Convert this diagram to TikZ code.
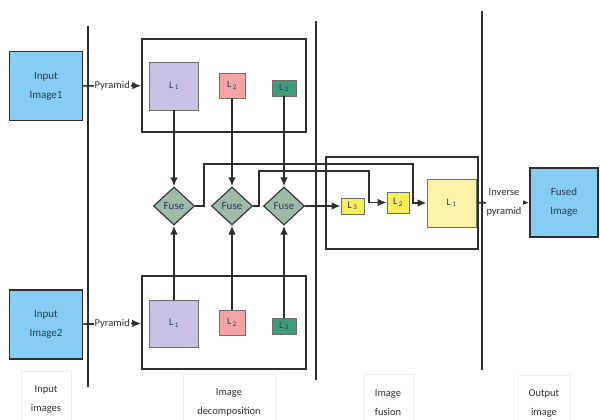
\documentclass[tikz,border=0pt]{standalone}
\usepackage{fontspec}
\setmainfont{Carlito}
\usetikzlibrary{arrows.meta,positioning,shapes.geometric}
\definecolor{ink}{HTML}{2E2E2E}
\definecolor{boxink}{HTML}{253C55}
\definecolor{imgblue}{HTML}{85CDF2}
\definecolor{lvlpurple}{HTML}{C8C1E3}
\definecolor{lvlpink}{HTML}{F4A4A4}
\definecolor{lvlgreen}{HTML}{3F9A7A}
\definecolor{fusegreen}{HTML}{9FBAA8}
\definecolor{fuseyellow}{HTML}{F6EE5C}
\definecolor{paleyellow}{HTML}{FBF4A8}
\definecolor{faint}{HTML}{EEEEEE}

\begin{document}
\begin{tikzpicture}[
  x=1pt,y=-1pt,
  font=\fontsize{11}{13}\selectfont,
  image/.style={draw=ink,line width=1.5pt,fill=imgblue,text=boxink,align=center,minimum width=73pt,minimum height=69pt,font=\fontsize{11}{19}\selectfont},
  frame/.style={draw=ink,line width=1.5pt,inner sep=0pt},
  level/.style={draw=ink!70,line width=.7pt,inner sep=0pt,text=boxink,font=\fontsize{10}{11}\selectfont},
  fuse/.style={diamond,draw=ink,line width=1.1pt,fill=fusegreen,inner sep=0pt,minimum width=41pt,minimum height=38pt,text=boxink},
  flow/.style={-{Latex[length=9pt,width=7.5pt]},line width=1.6pt,draw=ink},
  tag/.style={fill=white,inner sep=1pt,text=ink,align=center,font=\fontsize{10.5}{19}\selectfont},
  stage/.style={draw=faint,line width=.6pt,align=center,anchor=north,text=ink,font=\fontsize{10.5}{19}\selectfont,minimum height=56pt},
  sep/.style={line width=1.7pt,draw=ink}
]
\useasboundingbox (0,0) rectangle (600,420);

% Stage separators
\draw[sep] (88,26) -- (88,387);
\draw[sep] (316,21) -- (316,380);
\draw[sep] (482,11) -- (482,370);

% Inputs
\node[image] (in1) at (46,86) {Input\\Image1};
\node[image] (in2) at (46,324.5) {Input\\Image2};

% Decomposition
\node[frame,minimum width=164pt,minimum height=93pt] (dec1) at (224,85.5) {};
\node[level,fill=lvlpurple,minimum width=49pt,minimum height=48pt] (a1) at (174,86) {L\,\textsubscript{1}};
\node[level,fill=lvlpink,minimum width=26pt,minimum height=25pt] (a2) at (232,85.5) {L\,\textsubscript{2}};
\node[level,fill=lvlgreen,minimum width=24pt,minimum height=16pt] (a3) at (284,88) {L\,\textsubscript{3}};

\node[frame,minimum width=164pt,minimum height=93pt] (dec2) at (224,322.5) {};
\node[level,fill=lvlpurple,minimum width=49pt,minimum height=47pt] (b1) at (174,323.5) {L\,\textsubscript{1}};
\node[level,fill=lvlpink,minimum width=26pt,minimum height=25pt] (b2) at (232,322.5) {L\,\textsubscript{2}};
\node[level,fill=lvlgreen,minimum width=24pt,minimum height=16pt] (b3) at (284,326) {L\,\textsubscript{3}};

\draw[flow] (in1) -- node[tag] {Pyramid} (dec1);
\draw[flow] (in2) -- node[tag] {Pyramid} (dec2);

% Fuse rules
\node[fuse] (fuse1) at (174,206) {Fuse};
\node[fuse] (fuse2) at (232,206) {Fuse};
\node[fuse] (fuse3) at (284,206) {Fuse};
\foreach \n in {1,2,3} {
  \draw[flow] (a\n.south) -- (fuse\n.north);
  \draw[flow] (b\n.north) -- (fuse\n.south);
}

% Fusion
\node[frame,minimum width=152pt,minimum height=92pt] (fusion) at (402,203) {};
\node[level,fill=fuseyellow,minimum width=23pt,minimum height=16pt] (f3) at (352.5,206) {L\,\textsubscript{3}};
\node[level,fill=fuseyellow,minimum width=22pt,minimum height=21pt] (f2) at (398,202.5) {L\,\textsubscript{2}};
\node[level,fill=paleyellow,minimum width=49pt,minimum height=48pt] (f1) at (451.5,203) {L\,\textsubscript{1}};
\coordinate (k1) at (413,164);
\coordinate (k2) at (369,171);
\draw[flow] (fuse1.east) -- ++(9,0) |- (k1) |- (f1.west);
\draw[flow] (fuse2.east) -- ++(6,0) |- (k2) |- (f2.west);
\draw[flow] (fuse3.east) -- (f3.west);

% Output
\node[image,minimum width=68pt] (out) at (564,202.5) {Fused\\Image};
\draw[flow] (fusion) -- node[tag] {Inverse\\pyramid} (out);

% Stage names
\node[stage,minimum width=50pt] (st1) at (46,371) {Input\\images};
\node[stage,minimum width=92pt] (st2) at (229,374) {Image\\decomposition};
\node[stage,minimum width=50pt] (st3) at (388,374) {Image\\fusion};
\node[stage,minimum width=52pt] (st4) at (544,375) {Output\\image};
\end{tikzpicture}
\end{document}
